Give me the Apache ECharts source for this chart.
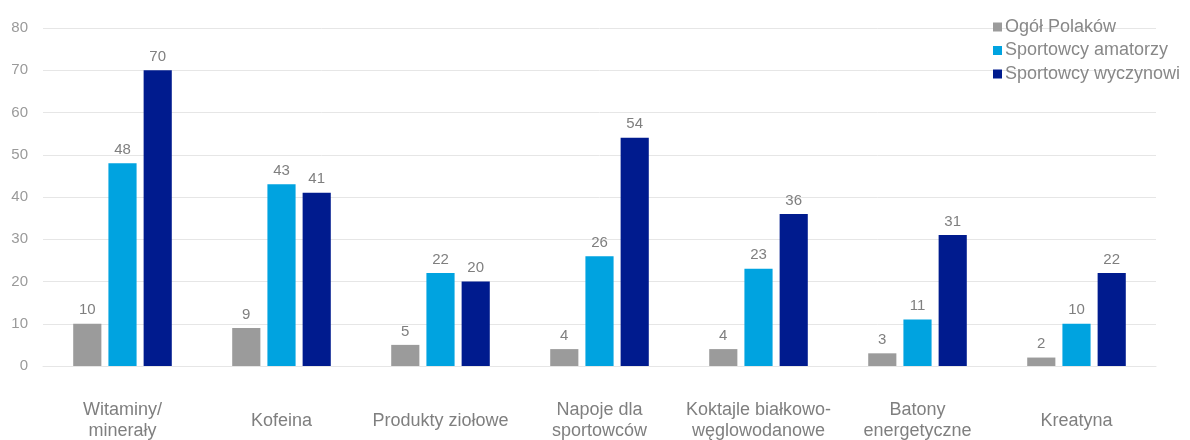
<!DOCTYPE html>
<html>
<head>
<meta charset="utf-8">
<script src="https://cdn.jsdelivr.net/npm/echarts@6/dist/echarts.min.js"></script>
<style>
  html, body { margin: 0; padding: 0; background: #ffffff; }
  #chart { width: 1190px; height: 440px; }
</style>
</head>
<body>
<div id="chart"></div>
<script>
// Categories of supplements / products
const categories = [
  'Witaminy/\nminerały',
  'Kofeina',
  'Produkty ziołowe',
  'Napoje dla\nsportowców',
  'Koktajle białkowo-\nwęglowodanowe',
  'Batony\nenergetyczne',
  'Kreatyna'
];

// Share of respondents (%) per group
const ogolPolakow = [10, 9, 5, 4, 4, 3, 2];
const sportowcyAmatorzy = [48, 43, 22, 26, 23, 11, 10];
const sportowcyWyczynowi = [70, 41, 20, 54, 36, 31, 22];

const seriesNames = ['Ogół Polaków', 'Sportowcy amatorzy', 'Sportowcy wyczynowi'];
const seriesColors = ['#9b9b9b', '#00a3e0', '#001b8e'];

const FONT = '"Liberation Sans", Arial, sans-serif';
const TEXT_GRAY = '#7f7f7f';

const chart = echarts.init(document.getElementById('chart'), null, { renderer: 'canvas' });

function barSeries(name, data, color) {
  return {
    name: name,
    type: 'bar',
    data: data,
    barGap: '25%',
    barCategoryGap: '38%',
    itemStyle: { color: color },
    label: {
      show: true,
      position: 'top',
      distance: 6,
      color: TEXT_GRAY,
      fontFamily: FONT,
      fontSize: 15
    },
    emphasis: { disabled: true }
  };
}

chart.setOption({
  animation: false,
  backgroundColor: '#ffffff',
  grid: {
    left: 43, right: 34, top: 28, bottom: 74,
    containLabel: false,
    outerBoundsMode: 'none'
  },
  legend: {
    orient: 'vertical',
    left: 988,
    top: 12,
    icon: 'rect',
    itemWidth: 9,
    itemHeight: 9,
    itemGap: 3.5,
    textStyle: { color: '#888888', fontFamily: FONT, fontSize: 18, lineHeight: 20, padding: [0, 0, 0, -2] },
    data: seriesNames
  },
  xAxis: {
    type: 'category',
    data: categories,
    axisLine: { show: true, lineStyle: { color: '#e6e6e6', width: 1 } },
    axisTick: { show: false },
    axisLabel: {
      interval: 0,
      color: TEXT_GRAY,
      fontFamily: FONT,
      fontSize: 18,
      lineHeight: 21,
      verticalAlign: 'middle',
      margin: 55
    }
  },
  yAxis: {
    type: 'value',
    min: 0,
    max: 80,
    interval: 10,
    axisLine: { show: false },
    axisTick: { show: false },
    splitLine: { lineStyle: { color: '#e6e6e6', width: 1 } },
    axisLabel: {
      color: '#9a9a9a',
      fontFamily: FONT,
      fontSize: 15,
      margin: 15
    }
  },
  series: [
    barSeries(seriesNames[0], ogolPolakow, seriesColors[0]),
    barSeries(seriesNames[1], sportowcyAmatorzy, seriesColors[1]),
    barSeries(seriesNames[2], sportowcyWyczynowi, seriesColors[2])
  ]
});
</script>
</body>
</html>
